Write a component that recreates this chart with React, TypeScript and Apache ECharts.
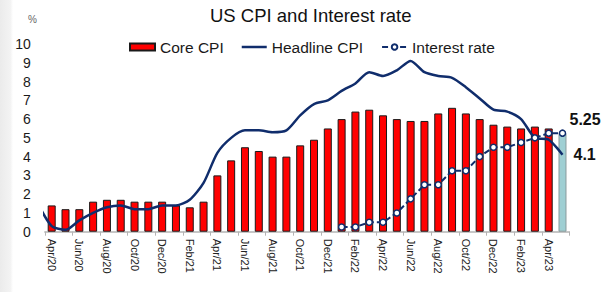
import React, { useEffect, useRef } from 'react';
import * as echarts from 'echarts';

const months = [
  'Apr/20', 'May/20', 'Jun/20', 'Jul/20', 'Aug/20', 'Sep/20', 'Oct/20', 'Nov/20', 'Dec/20',
  'Jan/21', 'Feb/21', 'Mar/21', 'Apr/21', 'May/21', 'Jun/21', 'Jul/21', 'Aug/21', 'Sep/21',
  'Oct/21', 'Nov/21', 'Dec/21', 'Jan/22', 'Feb/22', 'Mar/22', 'Apr/22', 'May/22', 'Jun/22',
  'Jul/22', 'Aug/22', 'Sep/22', 'Oct/22', 'Nov/22', 'Dec/22', 'Jan/23', 'Feb/23', 'Mar/23',
  'Apr/23', 'May/23',
];

const coreCPI = [
  1.4, 1.2, 1.2, 1.6, 1.7, 1.7, 1.6, 1.6, 1.6, 1.4, 1.3, 1.6,
  3.0, 3.8, 4.5, 4.3, 4.0, 4.0, 4.6, 4.9, 5.5, 6.0, 6.4, 6.5,
  6.2, 6.0, 5.9, 5.9, 6.3, 6.6, 6.3, 6.0, 5.7, 5.6, 5.5, 5.6,
  5.5, 5.25,
];

// Headline CPI starts at Mar/20 (one month before the first category; clipped at the axis edge)
const headlineStartIndex = -1;
const headlineCPI = [
  1.5, 0.3, 0.1, 0.6, 1.0, 1.3, 1.4, 1.2, 1.2, 1.4, 1.4, 1.7, 2.6,
  4.2, 5.0, 5.4, 5.4, 5.3, 5.4, 6.2, 6.8, 7.0, 7.5, 7.9, 8.5,
  8.3, 8.6, 9.1, 8.5, 8.3, 8.2, 7.7, 7.1, 6.5, 6.4, 6.0, 5.0,
  4.9, 4.1,
];

// Interest rate starts at Jan/22
const rateStartIndex = 21;
const interestRate = [
  0.25, 0.25, 0.5, 0.5, 1.0, 1.75, 2.5, 2.5, 3.25, 3.25, 4.0, 4.5,
  4.5, 4.75, 5.0, 5.25, 5.25,
];

const headlineEndLabel = '4.1';
const rateEndLabel = '5.25';

export default function App() {
  const ref = useRef<HTMLDivElement>(null);
  useEffect(() => {
    const chart = echarts.init(ref.current!, null, { renderer: 'svg' });
    const font = "'Liberation Sans', Arial, sans-serif";
    const navy = '#102d6c';
    const last = coreCPI.length - 1;
    chart.setOption({
      animation: false,
      backgroundColor: '#ffffff',
      textStyle: { fontFamily: font },
      title: {
        text: 'US CPI and Interest rate',
        left: 205,
        top: 1,
        textStyle: { fontSize: 18.5, fontWeight: 'normal', color: '#111', fontFamily: font },
      },
      legend: {
        top: 34,
        left: 124,
        itemGap: 18,
        itemWidth: 25,
        itemHeight: 7,
        textStyle: { fontSize: 15.5, color: '#1a1a1a', fontFamily: font },
        data: [
          { name: 'Core CPI', icon: 'rect' },
          { name: 'Headline CPI', icon: 'path://M0,0 H25 V2.5 H0 Z' },
          { name: 'Interest rate' },
        ],
      },
      graphic: [
        {
          type: 'rect',
          left: 0,
          top: 0,
          z: -10,
          shape: { width: 13, height: 292 },
          style: {
            fill: new echarts.graphic.LinearGradient(0, 0, 1, 0, [
              { offset: 0, color: '#ebebeb' },
              { offset: 0.8, color: '#f3f3f3' },
              { offset: 1, color: '#ffffff' },
            ]),
          },
        },
        {
          type: 'text',
          left: 28,
          top: 14,
          style: { text: '%', fontSize: 10, fill: '#666', fontFamily: font },
        },
      ],
      grid: { left: 44.8, right: 35.6, top: 44, bottom: 60.3 },
      xAxis: [
        {
          type: 'category',
          data: months,
          boundaryGap: true,
          axisLine: { lineStyle: { color: '#b4b4b4', width: 1.5 } },
          axisTick: { show: true, length: 4, lineStyle: { color: '#b4b4b4' } },
          axisLabel: { interval: 1, rotate: -90, fontSize: 11, color: '#222', fontFamily: font, margin: 7 },
        },
        { type: 'value', min: -0.5, max: 37.5, show: false },
      ],
      yAxis: {
        type: 'value',
        min: 0,
        max: 10,
        interval: 1,
        splitLine: { show: false },
        axisLine: { show: false },
        axisTick: { show: false },
        axisLabel: { fontSize: 14, color: '#1a1a1a', margin: 14, fontFamily: font },
      },
      series: [
        {
          name: 'Core CPI',
          type: 'bar',
          barWidth: 8,
          itemStyle: { color: '#ff0000', borderColor: '#1a1a1a', borderWidth: 1 },
          data: coreCPI.map((v, i) =>
            i === last ? { value: v, itemStyle: { color: '#9fcfd3', borderColor: '#8a9a9c', borderWidth: 1 } } : v
          ),
        },
        {
          name: 'Headline CPI',
          type: 'line',
          xAxisIndex: 1,
          symbol: 'none',
          smooth: 0.25,
          lineStyle: { color: navy, width: 2.5 },
          itemStyle: { color: navy },
          data: headlineCPI.map((v, i) => [headlineStartIndex + i, v]),
          endLabel: {
            show: true,
            formatter: headlineEndLabel,
            distance: 11,
            fontSize: 16,
            fontWeight: 'bold',
            color: '#111',
            fontFamily: font,
          },
          z: 3,
        },
        {
          name: 'Interest rate',
          type: 'line',
          xAxisIndex: 1,
          symbol: 'circle',
          symbolSize: 6,
          showAllSymbol: true,
          lineStyle: { color: navy, width: 2, type: [6, 3] },
          itemStyle: { color: '#ffffff', borderColor: navy, borderWidth: 1.5 },
          data: interestRate.map((v, i) => [rateStartIndex + i, v]),
          endLabel: {
            show: true,
            formatter: rateEndLabel,
            distance: 7,
            offset: [0, -14],
            fontSize: 16,
            fontWeight: 'bold',
            color: '#111',
            fontFamily: font,
          },
          z: 4,
        },
      ],
    });
    return () => chart.dispose();
  }, []);
  return <div ref={ref} style={{ position: 'absolute', left: 0, top: 0, width: 605, height: 292 }} />;
}
